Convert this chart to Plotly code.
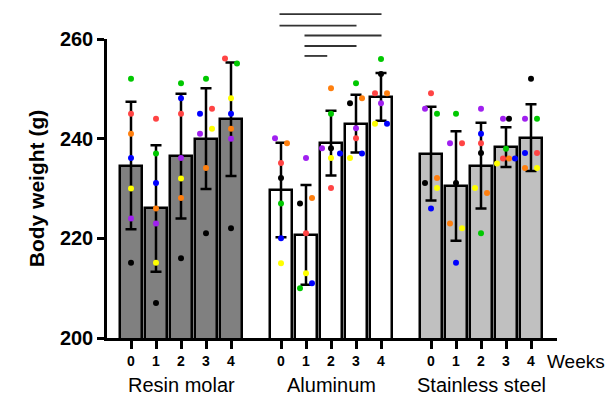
import plotly.graph_objects as go

# ---------------- data ----------------
groups = ["Resin molar", "Aluminum", "Stainless steel"]
weeks = ["0", "1", "2", "3", "4"]
animal_colors = ["#000000", "#ff4444", "#ff7f0e", "#ffff00", "#00c800", "#0000ff", "#a020f0"]

# bar means (g)
resin_mean = [234.6, 226.0, 236.5, 240.0, 243.9]
alum_mean = [229.7, 220.7, 239.1, 243.0, 248.4]
steel_mean = [237.0, 230.5, 234.6, 238.3, 240.2]
# SD
resin_sd = [12.8, 12.7, 12.5, 10.1, 11.4]
alum_sd = [9.5, 10.0, 6.5, 5.8, 4.8]
steel_sd = [9.4, 11.0, 8.6, 4.0, 6.7]

# individual animals per week: [black, red, orange, yellow, green, blue, purple]
resin_pts = [
    [215.1, 245.0, 241.0, 230.0, 252.0, 236.1, 224.0],
    [207.0, 244.0, 226.0, 215.1, 237.0, 231.1, 223.0],
    [216.0, 245.0, 228.1, 232.0, 251.1, 248.1, 236.1],
    [221.0, 246.0, 234.1, 242.0, 252.0, 245.0, 241.0],
    [222.0, 256.1, 242.0, 248.1, 255.1, 245.0, 240.0],
]
alum_pts = [
    [232.1, 235.1, 239.1, 215.0, 227.0, 220.0, 240.1],
    [227.0, 221.0, 228.1, 213.0, 210.0, 211.0, 236.1],
    [238.1, 230.1, 250.1, 236.1, 245.0, 237.0, 238.1],
    [247.1, 240.1, 248.1, 236.1, 251.1, 237.0, 242.1],
    [253.0, 249.1, 249.1, 243.0, 256.0, 243.0, 247.1],
]
steel_pts = [
    [231.1, 249.1, 232.1, 230.1, 245.0, 226.0, 246.0],
    [231.1, 239.1, 223.0, 222.0, 245.0, 215.1, 239.1],
    [237.1, 239.1, 229.1, 230.1, 221.0, 241.0, 246.0],
    [244.0, 236.0, 236.0, 235.0, 238.0, 236.0, 244.0],
    [252.0, 237.1, 234.1, 234.1, 244.0, 237.1, 244.0],
]

# significance comparisons within Aluminum (week a vs week b) and bar heights (g)
sig_pairs = [(0, 4), (0, 3), (1, 4), (1, 3), (1, 2)]
sig_levels = [265.0, 262.7, 260.7, 258.6, 256.6]

# ---------------- styling (horizontal dot jitter in px) ----------------
resin_jit = [
    [0, 0, 0, 0, 0, 0, 0],
    [0, 0, 0, 0, 0, 0, 0],
    [0, 0, 0, 0, 0, 0, 0],
    [0, 6, 0, 6, 0, -6, -6],
    [0, -6, 0, 0, 6, 0, 0],
]
alum_jit = [
    [0, 0, 6, 0, 0, 0, -6],
    [-6, 0, 6, 0, -6, 6, 0],
    [0, 0, 0, 0, 0, 9, -9],
    [-6, 0, 6, -6, 0, 6, 0],
    [0, -6, 6, -6, 0, 6, 0],
]
steel_jit = [
    [-6, 0, 6, 6, 6, 0, -6],
    [0, 6, -6, 6, 0, 0, -6],
    [0, 0, 6, -6, 0, 0, 0],
    [3, -3, 3, -9, 0, 9, -3],
    [0, 6, -6, 6, 6, -6, -6],
]
fills = ["#808080", "#ffffff", "#c0c0c0"]
PX_PER_SLOT = 25.0
SLOT_GAP = 6

means = [resin_mean, alum_mean, steel_mean]
sds = [resin_sd, alum_sd, steel_sd]
pts = [resin_pts, alum_pts, steel_pts]
jits = [resin_jit, alum_jit, steel_jit]

FONT = "Liberation Sans, Arial"
fig = go.Figure()

tickvals, ticktext = [], []
for g in range(3):
    xs = [g * SLOT_GAP + w for w in range(len(weeks))]
    tickvals += xs
    ticktext += weeks
    fig.add_trace(go.Bar(
        x=xs, y=means[g], width=0.88, base=0,
        marker=dict(color=fills[g], line=dict(color="black", width=2.5)),
        error_y=dict(type="data", array=sds[g], visible=True, color="black",
                     thickness=2.5, width=5.5),
        showlegend=False, hoverinfo="skip",
    ))

for g in range(3):
    for a, col in enumerate(animal_colors):
        xs = [g * SLOT_GAP + w + jits[g][w][a] / PX_PER_SLOT for w in range(len(weeks))]
        ys = [pts[g][w][a] for w in range(len(weeks))]
        fig.add_trace(go.Scatter(
            x=xs, y=ys, mode="markers",
            marker=dict(color=col, size=6, line=dict(width=0)),
            showlegend=False, hoverinfo="skip", cliponaxis=False,
        ))

YMIN, YMAX = 200, 260
for (a, b), lvl in zip(sig_pairs, sig_levels):
    x0 = SLOT_GAP + a - 0.06
    x1 = SLOT_GAP + b + (0.02 if b - a > 1 else -0.15)
    fig.add_shape(type="line", xref="x", yref="paper",
                  x0=x0, x1=x1,
                  y0=(lvl - YMIN) / (YMAX - YMIN), y1=(lvl - YMIN) / (YMAX - YMIN),
                  line=dict(color="#333333", width=1.8))

for g, name in enumerate(groups):
    fig.add_annotation(x=g * SLOT_GAP + 2, y=-0.157, xref="x", yref="paper",
                       text=name, showarrow=False, yanchor="middle",
                       font=dict(family=FONT, size=20, color="black"))
fig.add_annotation(x=1.0, y=-0.08, xref="paper", yref="paper", xanchor="left",
                   text="Weeks", showarrow=False, yanchor="middle", xshift=-12,
                   font=dict(family=FONT, size=19, color="black"))

fig.update_layout(
    width=616, height=397,
    margin=dict(l=107, r=59, t=39, b=59, autoexpand=False),
    plot_bgcolor="white", paper_bgcolor="white",
    bargap=0,
    font=dict(family=FONT, color="black"),
    xaxis=dict(
        range=[-0.96, 17.04], tickvals=tickvals, ticktext=ticktext,
        showline=True, linecolor="black", linewidth=2.5,
        ticks="outside", ticklen=8, tickwidth=2.5, tickcolor="black",
        tickfont=dict(family=FONT, size=14, color="black", weight="bold"),
        showgrid=False, zeroline=False, automargin=False,
    ),
    yaxis=dict(
        range=[YMIN, YMAX], tickvals=[200, 220, 240, 260],
        showline=True, linecolor="black", linewidth=2.5,
        ticks="outside", ticklen=7, tickwidth=2.5, tickcolor="black",
        tickfont=dict(family=FONT, size=20, color="black", weight="bold"),
        title=dict(text="<b>Body weight (g)</b>", font=dict(family=FONT, size=21, color="black"),
                   standoff=10),
        showgrid=False, zeroline=False, automargin=False,
    ),
)

fig.write_html("out.html", config={"displayModeBar": False},
               post_script="document.body.style.margin='0px';")
